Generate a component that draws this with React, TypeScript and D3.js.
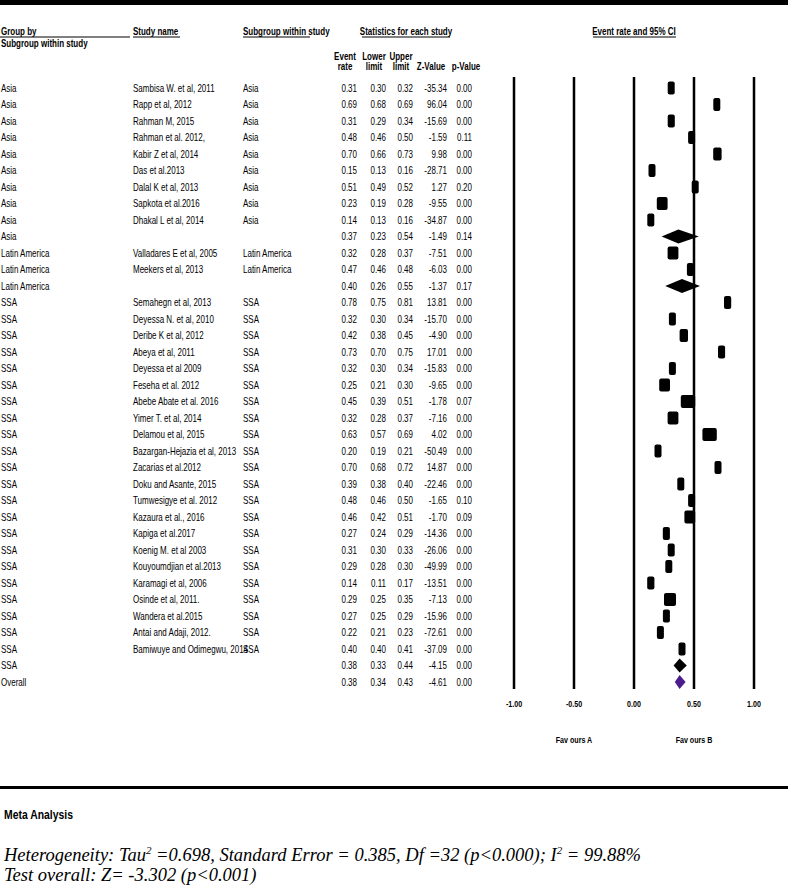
import React from 'react';
import * as d3 from 'd3';

// ---- data ----
const groupBy = [
  'Asia', 'Asia', 'Asia', 'Asia', 'Asia', 'Asia', 'Asia', 'Asia', 'Asia', 'Asia',
  'Latin America', 'Latin America', 'Latin America',
  'SSA', 'SSA', 'SSA', 'SSA', 'SSA', 'SSA', 'SSA', 'SSA', 'SSA', 'SSA', 'SSA', 'SSA',
  'SSA', 'SSA', 'SSA', 'SSA', 'SSA', 'SSA', 'SSA', 'SSA', 'SSA', 'SSA', 'SSA',
  'Overall',
];

const studyNames = [
  'Sambisa W. et al, 2011', 'Rapp et al, 2012', 'Rahman M, 2015', 'Rahman et al. 2012,',
  'Kabir Z et al, 2014', 'Das et al.2013', 'Dalal K et al, 2013', 'Sapkota et al.2016',
  'Dhakal L et al, 2014', '',
  'Valladares E et al, 2005', 'Meekers et al, 2013', '',
  'Semahegn et al, 2013', 'Deyessa N. et al, 2010', 'Deribe K et al, 2012', 'Abeya et al, 2011',
  'Deyessa et al 2009', 'Feseha et al. 2012', 'Abebe Abate et al. 2016', 'Yimer T. et al, 2014',
  'Delamou et al, 2015', 'Bazargan-Hejazia et al, 2013', 'Zacarias et al.2012',
  'Doku and Asante, 2015', 'Tumwesigye et al. 2012', 'Kazaura et al., 2016', 'Kapiga et al.2017',
  'Koenig M. et al 2003', 'Kouyoumdjian et al.2013', 'Karamagi et al, 2006', 'Osinde et al, 2011.',
  'Wandera et al.2015', 'Antai and Adaji, 2012.', 'Bamiwuye and Odimegwu, 2014', '',
  '',
];

const eventRate = [
  0.31, 0.69, 0.31, 0.48, 0.70, 0.15, 0.51, 0.23, 0.14, 0.37,
  0.32, 0.47, 0.40,
  0.78, 0.32, 0.42, 0.73, 0.32, 0.25, 0.45, 0.32, 0.63, 0.20, 0.70, 0.39,
  0.48, 0.46, 0.27, 0.31, 0.29, 0.14, 0.29, 0.27, 0.22, 0.40, 0.38,
  0.38,
];

const lowerLimit = [
  0.30, 0.68, 0.29, 0.46, 0.66, 0.13, 0.49, 0.19, 0.13, 0.23,
  0.28, 0.46, 0.26,
  0.75, 0.30, 0.38, 0.70, 0.30, 0.21, 0.39, 0.28, 0.57, 0.19, 0.68, 0.38,
  0.46, 0.42, 0.24, 0.30, 0.28, 0.11, 0.25, 0.25, 0.21, 0.40, 0.33,
  0.34,
];

const upperLimit = [
  0.32, 0.69, 0.34, 0.50, 0.73, 0.16, 0.52, 0.28, 0.16, 0.54,
  0.37, 0.48, 0.55,
  0.81, 0.34, 0.45, 0.75, 0.34, 0.30, 0.51, 0.37, 0.69, 0.21, 0.72, 0.40,
  0.50, 0.51, 0.29, 0.33, 0.30, 0.17, 0.35, 0.29, 0.23, 0.41, 0.44,
  0.43,
];

const zValue = [
  -35.34, 96.04, -15.69, -1.59, 9.98, -28.71, 1.27, -9.55, -34.87, -1.49,
  -7.51, -6.03, -1.37,
  13.81, -15.70, -4.90, 17.01, -15.83, -9.65, -1.78, -7.16, 4.02, -50.49, 14.87, -22.46,
  -1.65, -1.70, -14.36, -26.06, -49.99, -13.51, -7.13, -15.96, -72.61, -37.09, -4.15,
  -4.61,
];

const pValue = [
  0.00, 0.00, 0.00, 0.11, 0.00, 0.00, 0.20, 0.00, 0.00, 0.14,
  0.00, 0.00, 0.17,
  0.00, 0.00, 0.00, 0.00, 0.00, 0.00, 0.07, 0.00, 0.00, 0.00, 0.00, 0.00,
  0.10, 0.09, 0.00, 0.00, 0.00, 0.00, 0.00, 0.00, 0.00, 0.00, 0.00,
  0.00,
];

const axisTicks = [-1, -0.5, 0, 0.5, 1];

const W = 788;
const H = 887;
const sans = "'Liberation Sans', Arial, sans-serif";
const fmt = (v: number) => d3.format('.2f')(v).replace('\u2212', '-');

// Arial Narrow look-alike: regular sans squeezed horizontally
const NText = ({ x, y, anchor = 'start', squeeze = 0.8, children, ...rest }: any) => (
  <text transform={`translate(${x},${y}) scale(${squeeze},1)`} textAnchor={anchor} {...rest}>
    {children}
  </text>
);

const App = () => {
  const n = eventRate.length;
  const xScale = d3.scaleLinear().domain([-1, 1]).range([514, 754]);
  const yScale = d3.scaleLinear().domain([0, n - 1]).range([88, 682]);

  // right edge of the numbers, centre of the header above
  const cols = [
    { key: 'rate', vals: eventRate, right: 357, mid: 345, head: ['Event', 'rate'] },
    { key: 'lower', vals: lowerLimit, right: 386, mid: 374, head: ['Lower', 'limit'] },
    { key: 'upper', vals: upperLimit, right: 413, mid: 401, head: ['Upper', 'limit'] },
    { key: 'z', vals: zValue, right: 447, mid: 431, head: ['', 'Z-Value'] },
    { key: 'p', vals: pValue, right: 472, mid: 466, head: ['', 'p-Value'] },
  ];

  const isSummary = (i: number) => studyNames[i] === '';
  const plotTop = 77;
  const plotBottom = 689;
  const boxH = 13;

  return (
    <div style={{ position: 'absolute', left: 0, top: 0 }}>
      <svg width={W} height={H} style={{ display: 'block', background: '#fff' }}>
        <rect x={0} y={0} width={W} height={5} fill="#000" />

        {/* header */}
        <g fontFamily={sans} fontWeight="bold" fontSize={10} fill="#000">
          <NText x={1} y={35}>Group by</NText>
          <line x1={0} x2={130} y1={37} y2={37} stroke="#000" />
          <NText x={1} y={47}>Subgroup within study</NText>
          <NText x={133} y={35}>Study name</NText>
          <line x1={133} x2={180} y1={37} y2={37} stroke="#000" />
          <NText x={243} y={35}>Subgroup within study</NText>
          <line x1={243} x2={310} y1={37} y2={37} stroke="#000" />
          <NText x={406} y={35} anchor="middle">Statistics for each study</NText>
          <line x1={362} x2={450} y1={37} y2={37} stroke="#000" />
          <NText x={xScale(0)} y={35} anchor="middle">Event rate and 95%  CI</NText>
          <line x1={593} x2={676} y1={37} y2={37} stroke="#000" />
          {cols.map((c) => (
            <g key={c.key}>
              <NText x={c.mid} y={60} anchor="middle">{c.head[0]}</NText>
              <NText x={c.mid} y={70} anchor="middle">{c.head[1]}</NText>
            </g>
          ))}
        </g>

        {/* table rows */}
        <g fontFamily={sans} fontSize={10} fill="#000">
          {eventRate.map((_, i) => {
            const y = yScale(i) + 3.5;
            return (
              <g key={i}>
                <NText x={1} y={y}>{groupBy[i]}</NText>
                <NText x={133} y={y}>{studyNames[i]}</NText>
                {!isSummary(i) && <NText x={243} y={y}>{groupBy[i]}</NText>}
                {cols.map((c) => (
                  <NText key={c.key} x={c.right} y={y} anchor="end">{fmt(c.vals[i])}</NText>
                ))}
              </g>
            );
          })}
        </g>

        {/* reference lines */}
        <g>
          {axisTicks.map((t) => (
            <line key={t} x1={xScale(t)} x2={xScale(t)} y1={plotTop} y2={plotBottom}
              stroke="#000" strokeWidth={2.5} />
          ))}
        </g>

        {/* markers */}
        <g>
          {eventRate.map((r, i) => {
            const y = yScale(i);
            const xr = xScale(r);
            const xl = xScale(lowerLimit[i]);
            const xu = xScale(upperLimit[i]);
            if (isSummary(i)) {
              const h = 7;
              const d = `M${xl},${y}L${xr},${y - h}L${xu},${y}L${xr},${y + h}Z`;
              return <path key={i} d={d} fill={i === n - 1 ? '#4b1c8c' : '#000'} />;
            }
            const x0 = Math.min(xl, xr - 3.5);
            const x1 = Math.max(xu, xr + 3.5);
            return <rect key={i} x={x0} y={y - boxH / 2} width={x1 - x0} height={boxH} rx={2} fill="#000" />;
          })}
        </g>

        {/* axis labels */}
        <g fontFamily={sans} fontWeight="bold" fontSize={9.5} fill="#000">
          {axisTicks.map((t) => (
            <NText key={t} x={xScale(t)} y={707} anchor="middle" squeeze={0.75}>{fmt(t)}</NText>
          ))}
          <NText x={xScale(-0.5)} y={743} anchor="middle" squeeze={0.75}>Fav ours A</NText>
          <NText x={xScale(0.5)} y={743} anchor="middle" squeeze={0.75}>Fav ours B</NText>
        </g>

        {/* footer */}
        <rect x={0} y={786} width={W} height={3} fill="#000" />
        <g fontFamily={sans} fontWeight="bold" fontSize={13}>
          <NText x={4} y={819}>Meta Analysis</NText>
        </g>
        <g fontFamily="'Liberation Serif', 'Times New Roman', serif" fontStyle="italic" fontSize={18.5}>
          <text x={4} y={861}>
            Heterogeneity: Tau<tspan dy={-7} fontSize={11}>2</tspan>
            <tspan dy={7}> =0.698, Standard Error = 0.385, Df =32 (p&lt;0.000); I</tspan>
            <tspan dy={-7} fontSize={11}>2</tspan>
            <tspan dy={7}> = 99.88%</tspan>
          </text>
          <text x={4} y={881}>Test overall: Z= -3.302 (p&lt;0.001)</text>
        </g>
      </svg>
    </div>
  );
};

export default App;
